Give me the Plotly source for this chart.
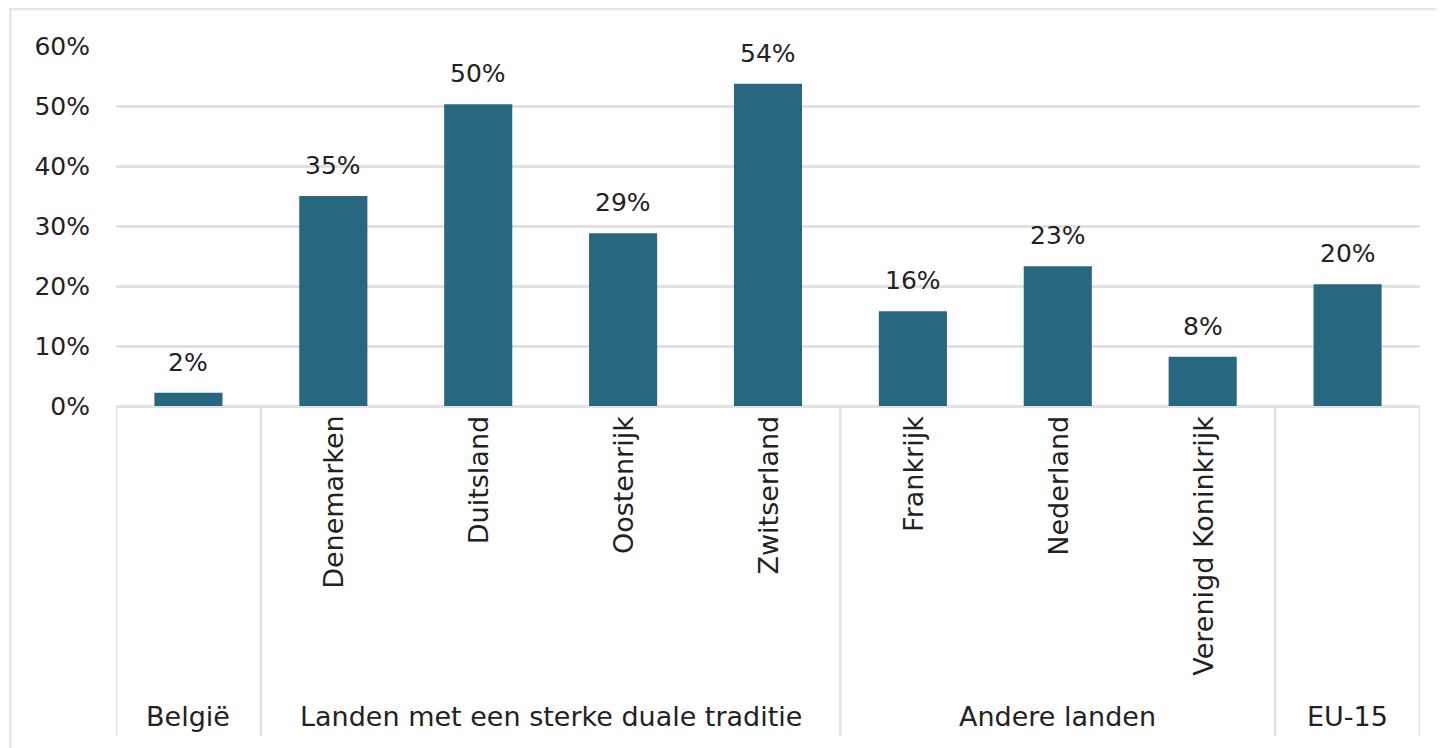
import plotly.graph_objects as go

# ── data ──
countries = ["België", "Denemarken", "Duitsland", "Oostenrijk", "Zwitserland",
             "Frankrijk", "Nederland", "Verenigd Koninkrijk", "EU-15"]
values = [0.022, 0.350, 0.503, 0.288, 0.537, 0.158, 0.233, 0.082, 0.203]
groups = ["België", "Landen met een sterke duale traditie", "Andere landen", "EU-15"]
group_sizes = [1, 4, 3, 1]
# rotated country labels are only shown for groups with more than one member
show_country = [False, True, True, True, True, True, True, True, False]

BAR = "#27677f"
GRID = "#e1e1e1"
TXT = "#222222"
FONT = "DejaVu Sans"
FS_NUM = 25   # tick + value labels
FS_CAT = 27   # category labels

x = list(range(len(countries)))

fig = go.Figure()
fig.add_trace(go.Bar(
    x=x, y=values, marker=dict(color=BAR, line=dict(width=0)),
    width=0.47, hoverinfo="skip",
))

# value labels above bars
for i, v in zip(x, values):
    fig.add_annotation(x=i, y=v, text=f"{v * 100:.0f}%", showarrow=False,
                       yanchor="bottom", yshift=14,
                       font=dict(family=FONT, size=FS_NUM, color=TXT))

# rotated country labels
for i, name, show in zip(x, countries, show_country):
    if show:
        fig.add_annotation(x=i, y=0, text=name, showarrow=False, textangle=-90,
                           yanchor="top", xanchor="center", yshift=-8,
                           font=dict(family=FONT, size=FS_CAT, color=TXT))

# group labels and dividers
BOTTOM = -0.55
edges = [-0.5]
for s in group_sizes:
    edges.append(edges[-1] + s)
for g, a, b in zip(groups, edges[:-1], edges[1:]):
    fig.add_annotation(x=(a + b) / 2, y=-0.517, text=g, showarrow=False,
                       font=dict(family=FONT, size=FS_CAT, color=TXT))
for e in edges:
    fig.add_trace(go.Scatter(x=[e, e], y=[0, BOTTOM], mode="lines",
                             line=dict(color=GRID, width=2.5), hoverinfo="skip",
                             cliponaxis=False))

# outer frame
fig.add_shape(type="rect", xref="paper", yref="paper",
              x0=-0.081, x1=1.2, y0=-0.2, y1=1.0536,
              line=dict(color="#e6e6e6", width=2.5), layer="below")

fig.update_layout(
    width=1444, height=748,
    margin=dict(l=108, r=32, t=38, b=20),
    plot_bgcolor="white", paper_bgcolor="white",
    showlegend=False,
    font=dict(family=FONT, size=FS_NUM, color=TXT),
    xaxis=dict(range=[-0.5, 8.5], showticklabels=False, showgrid=False,
               zeroline=False, showline=False, ticks=""),
    yaxis=dict(range=[BOTTOM, 0.6], tickvals=[0, 0.1, 0.2, 0.3, 0.4, 0.5, 0.6],
               tickformat=".0%", showgrid=True, gridcolor=GRID, gridwidth=2.5,
               zeroline=False, showline=False, ticks="", ticklabelstandoff=25,
               tickfont=dict(family=FONT, size=FS_NUM, color=TXT)),
)

fig.write_html("out.html")
